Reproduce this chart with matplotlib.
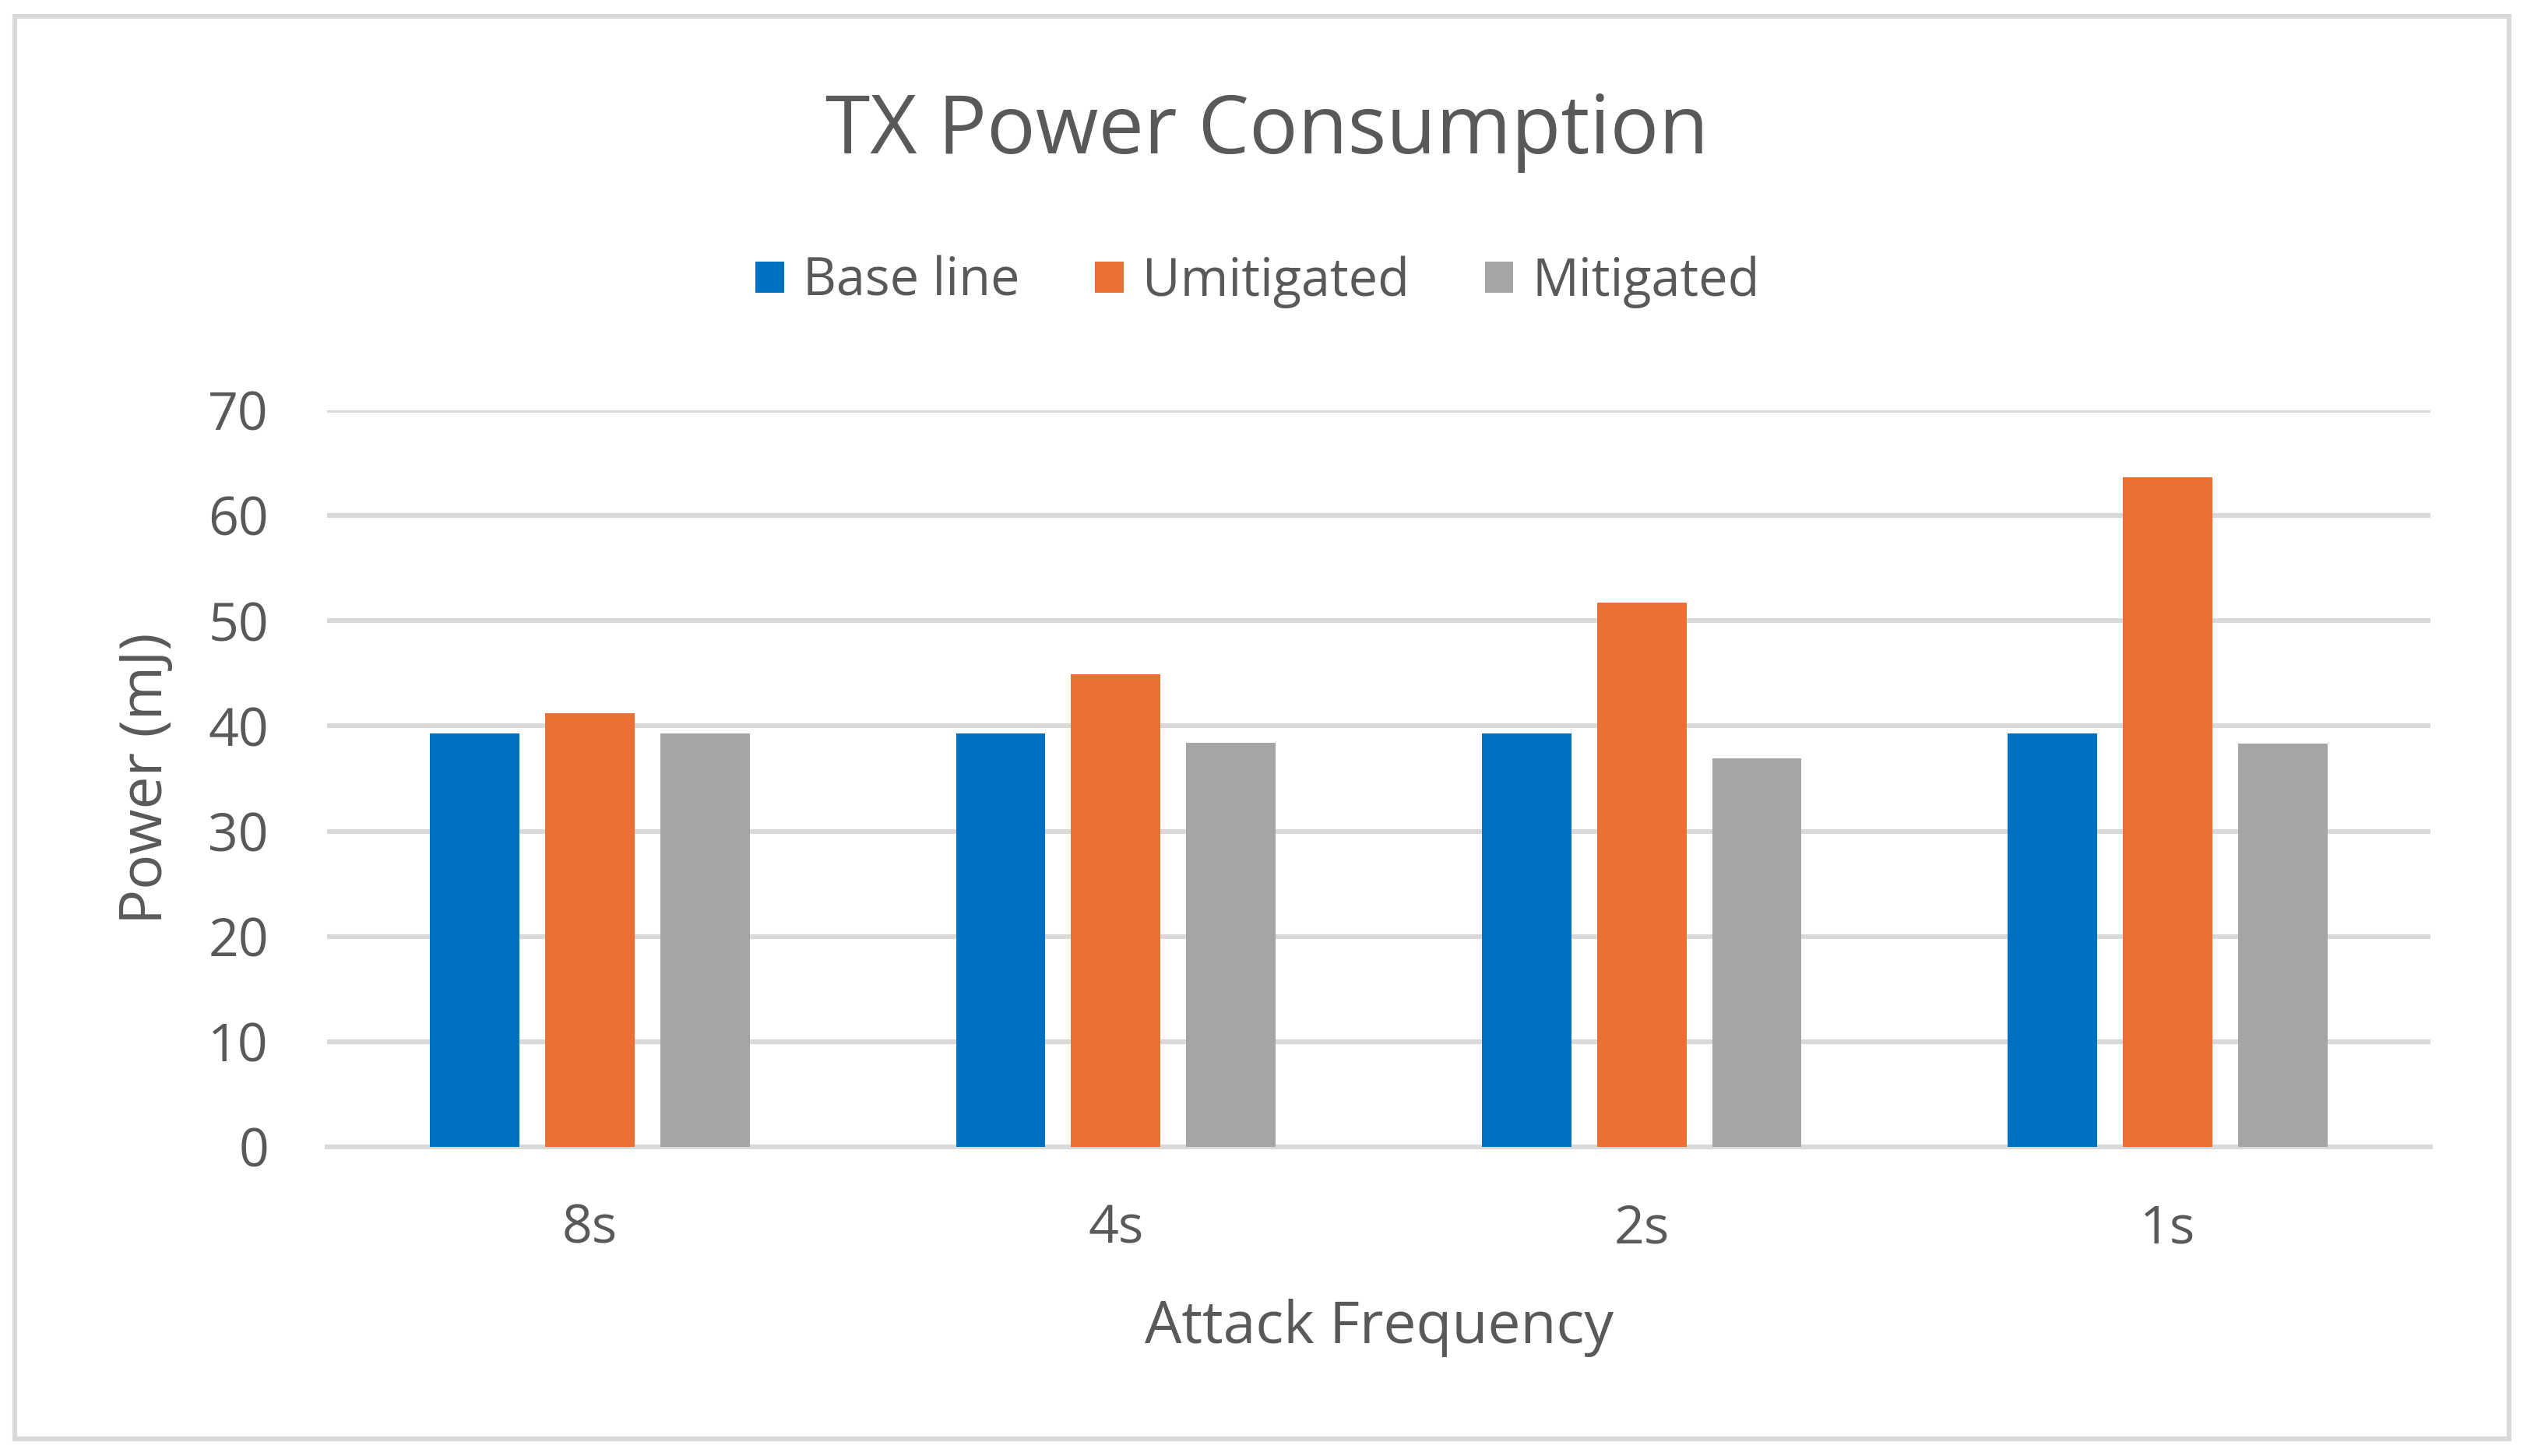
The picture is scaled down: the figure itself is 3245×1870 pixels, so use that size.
import matplotlib
matplotlib.use("Agg")
import matplotlib.pyplot as plt
from matplotlib.patches import Rectangle
import numpy as np

categories = ["8s", "4s", "2s", "1s"]
baseline = [39.3, 39.3, 39.3, 39.3]
unmitigated = [41.2, 44.9, 51.7, 63.6]
mitigated = [39.3, 38.4, 36.9, 38.3]
series_names = ["Base line", "Umitigated", "Mitigated"]
colors = ["#0070C0", "#E97132", "#A5A5A5"]
yticks = [0, 10, 20, 30, 40, 50, 60, 70]

plt.rcParams['font.family'] = ['Open Sans', 'DejaVu Sans']
text_color = "#595959"

W, H = 3245, 1870
dpi = 200
fig = plt.figure(figsize=(W / dpi, H / dpi), dpi=dpi)
fig.patch.set_facecolor("white")

# outer chart border
fig.patches.append(Rectangle((19 / W, 1 - 1848 / H), (3222 - 19) / W, (1848 - 21) / H,
                             transform=fig.transFigure, fill=False,
                             edgecolor="#D9D9D9", linewidth=2.2, zorder=0))

left, right = 420 / W, 3121 / W
bottom, top = 1 - 1473 / H, 1 - 527 / H
ax = fig.add_axes([left, bottom, right - left, top - bottom])

x = np.arange(len(categories))
width = 0.17
step = 0.219
for i, (vals, name, c) in enumerate(zip([baseline, unmitigated, mitigated], series_names, colors)):
    ax.bar(x + (i - 1) * step, vals, width=width, color=c, label=name, zorder=3)

ax.set_xlim(-0.5, len(categories) - 0.5)
ax.set_ylim(0, 70)
ax.set_yticks(yticks)
ax.set_xticks(x)
ax.set_xticklabels(categories)
ax.yaxis.grid(True, color="#D9D9D9", linewidth=2.2, zorder=0)
ax.set_axisbelow(True)
for s in ["top", "right", "left"]:
    ax.spines[s].set_visible(False)
ax.spines["bottom"].set_color("#D9D9D9")
ax.spines["bottom"].set_linewidth(2.2)
ax.spines["bottom"].set_zorder(1)
ax.tick_params(axis="both", length=0, labelsize=24.5, labelcolor=text_color)
ax.tick_params(axis="y", pad=27)
ax.tick_params(axis="x", pad=26)

ax.set_xlabel("Attack Frequency", fontsize=27, color=text_color, labelpad=20)
ax.set_ylabel("Power (mJ)", fontsize=27, color=text_color, labelpad=15)

fig.text(1627 / W, 1 - 170 / H, "TX Power Consumption", ha="center", va="center",
         fontsize=37.5, color=text_color)

fig.legend(loc="center", bbox_to_anchor=(1615 / W, 1 - 362 / H), ncol=3, frameon=False,
           fontsize=24, handlelength=0.55, handleheight=0.55, handletextpad=0.36,
           columnspacing=1.45, labelcolor=text_color)

fig.savefig("out.png", dpi=dpi, facecolor="white")
